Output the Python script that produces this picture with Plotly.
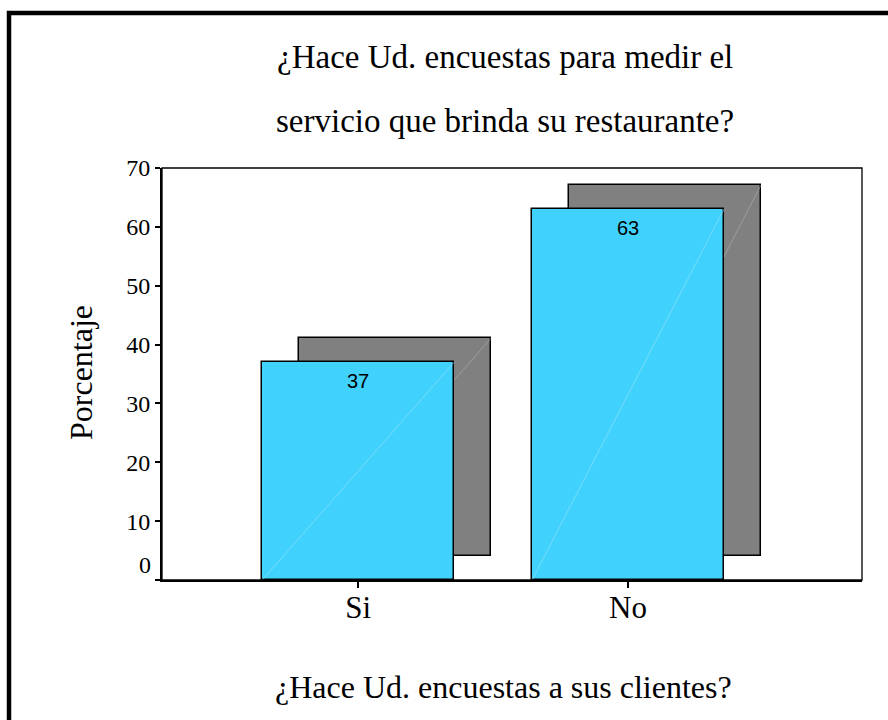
import plotly.graph_objects as go

# Survey answers and their percentages
categories = ["Si", "No"]
percentages = [37, 63]
y_tick_values = [0, 10, 20, 30, 40, 50, 60, 70]

title_lines = ["¿Hace Ud. encuestas para medir el", "servicio que brinda su restaurante?"]
x_title = "¿Hace Ud. encuestas a sus clientes?"
y_title = "Porcentaje"

# Canvas and plot-area geometry (pixels)
W, H = 888, 720
L, R, T, B = 162, 26, 168, 140
PW, PH = W - L - R, H - T - B

SERIF = "Liberation Serif, Times New Roman, serif"
SANS = "Liberation Sans, Arial, sans-serif"
BLUE = "#40D2FC"
GREY = "#808080"

BAR_W = 0.711       # bar width in category units
SHADOW_DX = 0.137   # drop-shadow horizontal offset (category units)
SHADOW_DY = 4.08    # drop-shadow lift (percentage units)


def px_x(px):
    return (px - L) / PW


def px_y(py):
    return (H - B - py) / PH


xs = list(range(len(categories)))

fig = go.Figure()

# Grey drop shadow behind each bar
fig.add_trace(go.Bar(
    x=[x + SHADOW_DX for x in xs], y=percentages, base=[SHADOW_DY] * len(xs),
    width=BAR_W, marker=dict(color=GREY, line=dict(color="black", width=1.5)),
    hoverinfo="skip", showlegend=False,
))

# Main bars
fig.add_trace(go.Bar(
    x=xs, y=percentages, width=BAR_W,
    marker=dict(color=BLUE, line=dict(color="black", width=1.5)),
    showlegend=False,
))

# Faint diagonal highlights across each bar and the exposed part of its shadow
for x, v in zip(xs, percentages):
    fig.add_trace(go.Scatter(
        x=[x - BAR_W / 2, x + BAR_W / 2], y=[0, v], mode="lines",
        line=dict(color="rgba(150,225,250,0.9)", width=0.7),
        hoverinfo="skip", showlegend=False,
    ))
    t0 = 1 - SHADOW_DX / BAR_W
    sx0 = x + SHADOW_DX - BAR_W / 2 + t0 * BAR_W
    fig.add_trace(go.Scatter(
        x=[sx0, x + SHADOW_DX + BAR_W / 2], y=[SHADOW_DY + t0 * v, SHADOW_DY + v],
        mode="lines", line=dict(color="rgba(175,175,175,0.9)", width=0.7),
        hoverinfo="skip", showlegend=False,
    ))

annotations = []
# Value labels inside the top of each bar
for x, v in zip(xs, percentages):
    annotations.append(dict(
        x=x, y=v, xref="x", yref="y", text=str(v), showarrow=False,
        yanchor="top", yshift=-6, font=dict(family=SANS, size=20, color="black"),
    ))

# Two-line chart title
for text, mid in zip(title_lines, [57, 121]):
    annotations.append(dict(
        x=px_x(505), y=px_y(mid), xref="paper", yref="paper", text=text,
        showarrow=False, xanchor="center", yanchor="middle",
        font=dict(family=SERIF, size=33, color="black"),
    ))

# Axis titles
annotations.append(dict(
    x=px_x(503), y=px_y(687), xref="paper", yref="paper", text=x_title,
    showarrow=False, xanchor="center", yanchor="middle",
    font=dict(family=SERIF, size=32, color="black"),
))
annotations.append(dict(
    x=px_x(81), y=px_y(373), xref="paper", yref="paper", text=y_title,
    showarrow=False, textangle=-90, xanchor="center", yanchor="middle",
    font=dict(family=SERIF, size=32, color="black"),
))

# The zero label sits slightly above its tick
annotations.append(dict(
    x=px_x(153), y=px_y(565), xref="paper", yref="paper", text=str(y_tick_values[0]),
    showarrow=False, xanchor="right", yanchor="middle",
    font=dict(family=SERIF, size=24, color="black"),
))

shapes = [
    # thin frame around the plot area
    dict(type="rect", xref="paper", yref="paper", x0=0, y0=0, x1=1, y1=1,
         line=dict(color="black", width=1.3), layer="above"),
    # heavy page border running off the right and bottom edges
    dict(type="rect", xref="paper", yref="paper",
         x0=px_x(9), y0=px_y(760), x1=px_x(940), y1=px_y(13),
         line=dict(color="black", width=4.5), layer="above"),
]

fig.update_layout(
    width=W, height=H,
    margin=dict(l=L, r=R, t=T, b=B, pad=0),
    paper_bgcolor="white", plot_bgcolor="white",
    barmode="overlay", bargap=0,
    annotations=annotations, shapes=shapes,
    font=dict(family=SERIF, color="black"),
)

fig.update_xaxes(
    range=[-0.727, 1.867], tickvals=xs, ticktext=categories,
    showgrid=False, zeroline=False, showline=True, linecolor="black", linewidth=2,
    ticks="outside", ticklen=6, tickwidth=1.5, tickcolor="black",
    ticklabelstandoff=-7,
    tickfont=dict(family=SERIF, size=31, color="black"),
)
fig.update_yaxes(
    range=[0, 70], tickvals=y_tick_values,
    ticktext=[""] + [str(v) for v in y_tick_values[1:]],
    showgrid=False, zeroline=False, showline=True, linecolor="black", linewidth=2,
    ticks="outside", ticklen=5, tickwidth=1.5, tickcolor="black",
    tickfont=dict(family=SERIF, size=24, color="black"),
)

fig.write_html("out.html")
